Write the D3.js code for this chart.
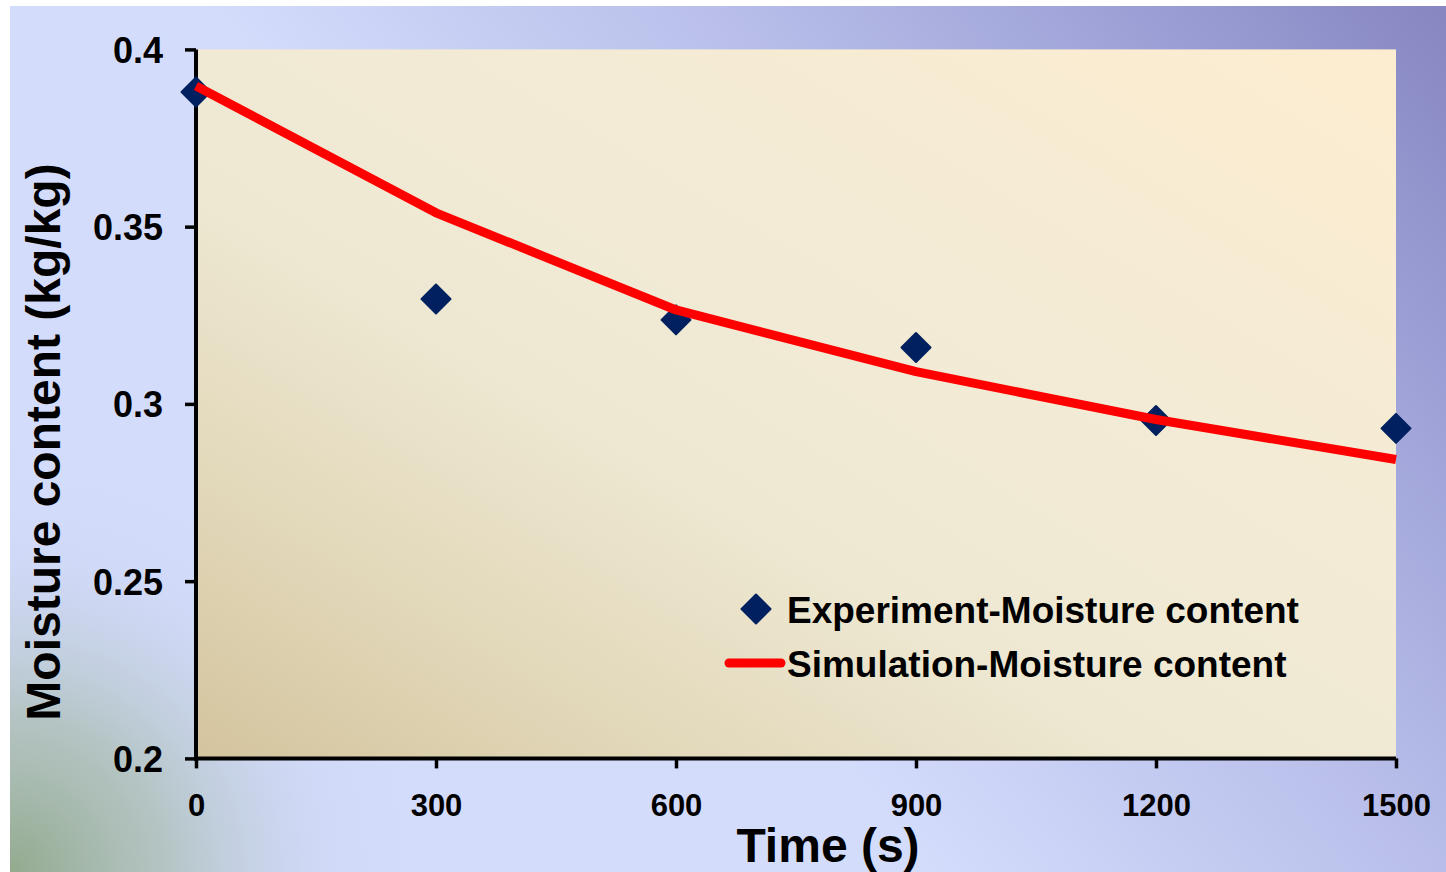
<!DOCTYPE html>
<html>
<head>
<meta charset="utf-8">
<script src="https://cdn.jsdelivr.net/npm/d3@7"></script>
<style>
  html, body { margin: 0; padding: 0; background: #ffffff; }
  svg { display: block; }
  text { font-family: "Liberation Sans", Arial, sans-serif; font-weight: bold; fill: #000; }
</style>
</head>
<body>
<svg id="chart" width="1446" height="872"></svg>
<script>
// ---- data ----
const timeValues = [0, 300, 600, 900, 1200, 1500];
const experimentValues = [0.388, 0.3296, 0.3237, 0.3159, 0.2953, 0.2931];
const simulationValues = [0.3897, 0.3539, 0.3265, 0.3091, 0.2956, 0.2843];
const xTicks = [0, 300, 600, 900, 1200, 1500];
const yTicks = [0.2, 0.25, 0.3, 0.35, 0.4];
const seriesNames = ["Experiment-Moisture content", "Simulation-Moisture content"];
const xTitle = "Time (s)";
const yTitle = "Moisture content (kg/kg)";

const W = 1446, H = 872;
const plot = { left: 196, right: 1396, top: 49.4, bottom: 758.4 };

const svg = d3.select("#chart");
const defs = svg.append("defs");

// outer background gradient
const bg = defs.append("linearGradient").attr("id", "bgGrad")
  .attr("gradientUnits", "userSpaceOnUse")
  .attr("x1", 400).attr("y1", 872).attr("x2", 1446).attr("y2", 0);
[[0, "#d4dcfc"], [0.3, "#d4dcfc"], [0.59, "#b8bee9"], [0.77, "#a2a6da"], [1, "#8686c2"]]
  .forEach(([o, c]) => bg.append("stop").attr("offset", o).attr("stop-color", c));

const green = defs.append("radialGradient").attr("id", "greenGrad")
  .attr("gradientUnits", "userSpaceOnUse")
  .attr("cx", 10).attr("cy", 872).attr("r", 440);
[[0, "#93aa8e", 1], [0.35, "#a9bcb0", 0.75], [0.7, "#c4d0e6", 0.3], [1, "#d4dcfc", 0]]
  .forEach(([o, c, a]) => green.append("stop").attr("offset", o).attr("stop-color", c).attr("stop-opacity", a));

// plot area gradient
const pg = defs.append("linearGradient").attr("id", "plotGrad")
  .attr("x1", 0).attr("y1", 1).attr("x2", 1).attr("y2", 0);
[[0, "#d4c49e"], [0.2, "#e2d8ba"], [0.4, "#eee8d2"], [0.65, "#f3ebd5"], [1, "#fdedd0"]]
  .forEach(([o, c]) => pg.append("stop").attr("offset", o).attr("stop-color", c));

svg.append("rect").attr("x", 10).attr("y", 6).attr("width", W - 10).attr("height", H - 6).attr("fill", "url(#bgGrad)");
svg.append("rect").attr("x", 10).attr("y", 6).attr("width", W - 10).attr("height", H - 6).attr("fill", "url(#greenGrad)");

svg.append("rect")
  .attr("x", plot.left).attr("y", plot.top)
  .attr("width", plot.right - plot.left).attr("height", plot.bottom - plot.top)
  .attr("fill", "url(#plotGrad)");

// scales
const x = d3.scaleLinear().domain([0, 1500]).range([plot.left, plot.right]);
const y = d3.scaleLinear().domain([0.2, 0.4]).range([plot.bottom, plot.top]);

// axes
const yAxis = d3.axisLeft(y).tickValues(yTicks).tickSize(11).tickPadding(22)
  .tickFormat(d => d3.format("")(+d.toFixed(2)));
const gy = svg.append("g").attr("transform", `translate(${plot.left},0)`).call(yAxis);
gy.select(".domain").attr("stroke", "#000").attr("stroke-width", 4).attr("d", `M0,${plot.top}V${plot.bottom + 2}`);
gy.selectAll(".tick line").attr("stroke", "#000").attr("stroke-width", 3.5);
gy.selectAll(".tick text").style("font-size", "36px").attr("fill", "#000").attr("dy", "0.36em");

const xAxis = d3.axisBottom(x).tickValues(xTicks).tickSize(10).tickPadding(26).tickFormat(d3.format("d"));
const gx = svg.append("g").attr("transform", `translate(0,${plot.bottom})`).call(xAxis);
gx.select(".domain").attr("stroke", "#000").attr("stroke-width", 4).attr("d", `M${plot.left - 2},0H${plot.right}`);
gx.selectAll(".tick line").attr("stroke", "#000").attr("stroke-width", 3.5);
gx.selectAll(".tick text").style("font-size", "31px").attr("fill", "#000").attr("dy", "0.71em");

// axis titles
svg.append("text").attr("x", 828).attr("y", 862).attr("text-anchor", "middle")
  .style("font-size", "48px").text(xTitle);
svg.append("text").attr("transform", "translate(60,442) rotate(-90)").attr("text-anchor", "middle")
  .style("font-size", "48px").text(yTitle);

// diamond path
const diamondSize = 29;
function diamondPath(cx, cy, s) {
  const h = s / 2;
  return `M${cx},${cy - h}L${cx + h},${cy}L${cx},${cy + h}L${cx - h},${cy}Z`;
}

// experiment markers
svg.append("g").selectAll("path")
  .data(timeValues.map((t, i) => ({ t, v: experimentValues[i] })))
  .join("path")
  .attr("d", d => diamondPath(x(d.t), y(d.v), diamondSize))
  .attr("fill", "#00205f")
  .attr("stroke", "#00205f").attr("stroke-width", 2).attr("stroke-linejoin", "round");

// simulation line
const line = d3.line().x(d => x(d.t)).y(d => y(d.v));
svg.append("path")
  .datum(timeValues.map((t, i) => ({ t, v: simulationValues[i] })))
  .attr("d", line)
  .attr("fill", "none").attr("stroke", "#ff0000").attr("stroke-width", 9)
  .attr("stroke-linejoin", "round");

// legend
const leg = svg.append("g");
leg.append("path").attr("d", diamondPath(756, 609, diamondSize))
  .attr("fill", "#00205f").attr("stroke", "#00205f").attr("stroke-width", 2).attr("stroke-linejoin", "round");
leg.append("text").attr("x", 787).attr("y", 623).style("font-size", "37px").text(seriesNames[0]);
leg.append("line").attr("x1", 729).attr("x2", 781).attr("y1", 663).attr("y2", 663)
  .attr("stroke", "#ff0000").attr("stroke-width", 9).attr("stroke-linecap", "round");
leg.append("text").attr("x", 787).attr("y", 677).style("font-size", "37px").text(seriesNames[1]);
</script>
</body>
</html>
